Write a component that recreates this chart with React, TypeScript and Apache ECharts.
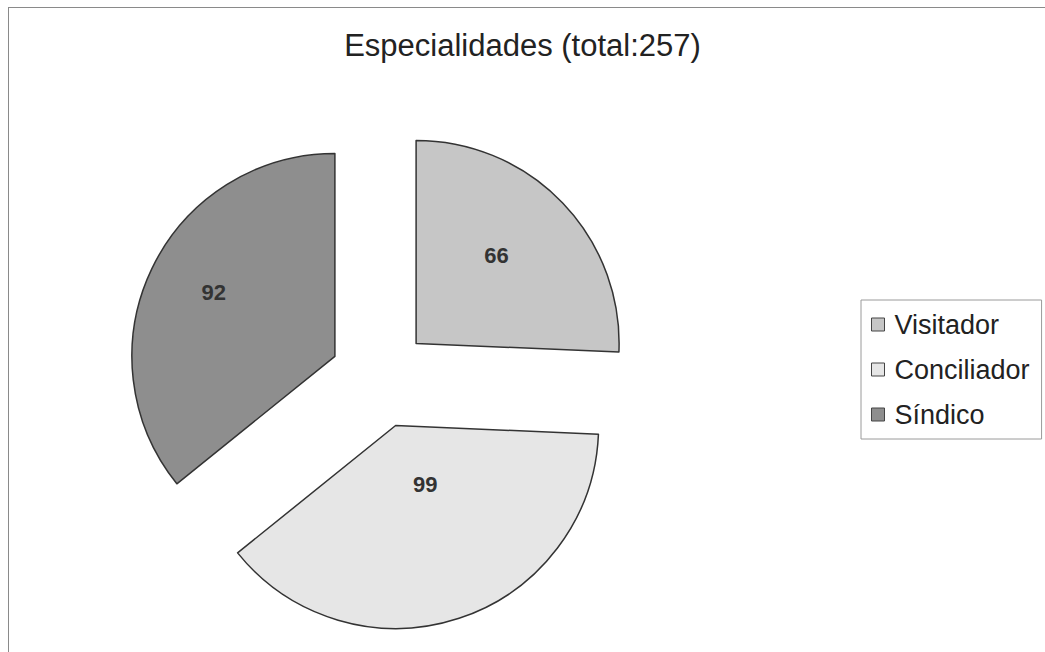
import React, { useEffect, useRef } from "react";
import * as echarts from "echarts";

const titleText = "Especialidades (total:257)";
const categories = ["Visitador", "Conciliador", "Síndico"];
const values = [66, 99, 92];
const colors = ["#c6c6c6", "#e6e6e6", "#8e8e8e"];
// label nudges: horizontal via padding, vertical via spacer line height
const labelPads = [[0, 0, 0, 10], [0, 6, 0, 0], [0, 54, 0, 0]];
const labelLift = [32, 80, 38];

export default function App() {
  const ref = useRef<HTMLDivElement>(null);
  useEffect(() => {
    if (!ref.current) return;
    const chart = echarts.init(ref.current, undefined, { renderer: "svg" });
    const font = "Liberation Sans, Arial, sans-serif";
    chart.setOption({
      animation: false,
      backgroundColor: "#ffffff",
      title: {
        text: titleText,
        left: "center",
        top: 25,
        textStyle: { fontFamily: font, fontSize: 31, fontWeight: "normal", color: "#222" },
      },
      legend: {
        orient: "vertical",
        left: 861,
        top: 300,
        data: categories,
        icon: "rect",
        itemWidth: 13,
        itemHeight: 13,
        itemGap: 18,
        padding: [11, 12, 11, 10],
        borderColor: "#9a9a9a",
        borderWidth: 1,
        selectedMode: false,
        textStyle: { fontFamily: font, fontSize: 27, color: "#222", lineHeight: 26, padding: [0, 0, 0, 5] },
        itemStyle: { borderColor: "#444", borderWidth: 1 },
      },
      graphic: [
        { type: "line", shape: { x1: 8, y1: 7.5, x2: 1045, y2: 7.5 }, style: { stroke: "#8a8a8a", lineWidth: 1 } },
        { type: "line", shape: { x1: 8.5, y1: 7, x2: 8.5, y2: 652 }, style: { stroke: "#8a8a8a", lineWidth: 1 } },
      ],
      series: [
        {
          type: "pie",
          center: [380, 378],
          radius: 203,
          startAngle: 90,
          clockwise: true,
          selectedMode: "multiple",
          selectedOffset: 50,
          emphasis: { disabled: true },
          labelLine: { show: false },
          itemStyle: { borderColor: "#333", borderWidth: 1.5 },
          label: {
            show: true,
            position: "inside",
            formatter: "{v|{c}}\n{s| }",
            fontFamily: font,
            fontSize: 22,
            fontWeight: "bold",
            color: "#333",
          },
          data: categories.map((name, i) => ({
            name,
            value: values[i],
            selected: true,
            itemStyle: { color: colors[i] },
            label: {
              padding: labelPads[i],
              rich: {
                v: { fontFamily: font, fontSize: 22, fontWeight: "bold", color: "#333", lineHeight: 24 },
                s: { fontSize: 2, height: labelLift[i], lineHeight: labelLift[i] },
              },
            },
          })),
        },
      ],
    });
    return () => chart.dispose();
  }, []);
  return <div ref={ref} style={{ position: "fixed", left: 0, top: 0, width: 1045, height: 652 }} />;
}
